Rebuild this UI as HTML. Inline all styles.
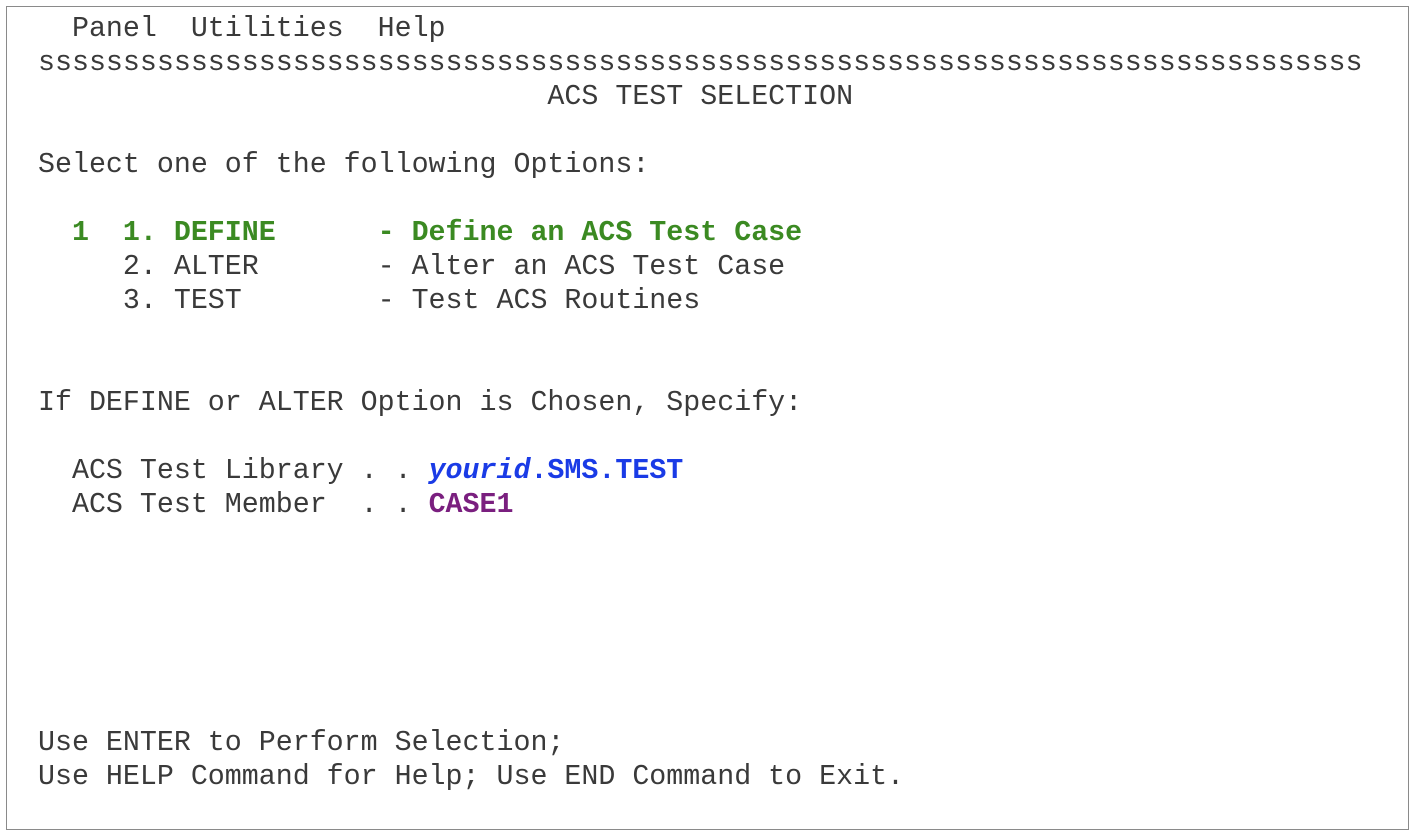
<!DOCTYPE html>
<html><head><meta charset="utf-8"><style>
html,body{margin:0;padding:0;background:#fff;width:1414px;height:836px;overflow:hidden}
.box{position:absolute;left:6px;top:6px;width:1403px;height:824px;border:1px solid #8a8a8a;box-sizing:border-box}
pre{position:absolute;left:38px;top:12px;margin:0;font-family:"Liberation Mono",monospace;font-size:28.3px;line-height:34px;color:#3a3a3a;white-space:pre}
.g{color:#3b8a22;font-weight:bold}
.b{color:#1a3be6;font-weight:bold}
.p{color:#7a1f7f;font-weight:bold}
</style></head><body>
<div class="box"></div>
<pre>  Panel  Utilities  Help
ssssssssssssssssssssssssssssssssssssssssssssssssssssssssssssssssssssssssssssss
                              ACS TEST SELECTION

Select one of the following Options:

<span class="g">  1  1. DEFINE      - Define an ACS Test Case</span>
     2. ALTER       - Alter an ACS Test Case
     3. TEST        - Test ACS Routines


If DEFINE or ALTER Option is Chosen, Specify:

  ACS Test Library . . <span class="b"><i>yourid</i>.SMS.TEST</span>
  ACS Test Member  . . <span class="p">CASE1</span>






Use ENTER to Perform Selection;
Use HELP Command for Help; Use END Command to Exit.</pre>
</body></html>
